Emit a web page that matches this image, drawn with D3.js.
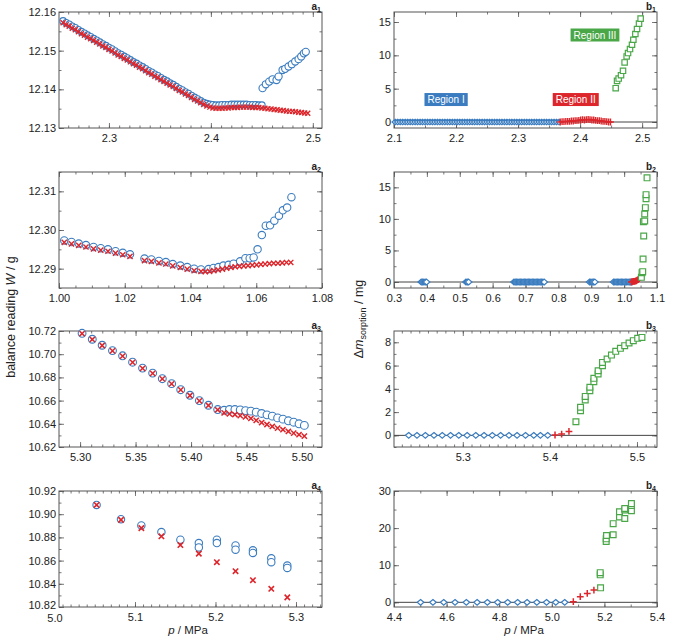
<!DOCTYPE html>
<html>
<head>
<meta charset="utf-8">
<script src="https://cdn.jsdelivr.net/npm/d3@7"></script>
<style>
body { margin: 0; background: #fff; }
svg text { font-family: "Liberation Sans", Arial, sans-serif; fill: #222; }
</style>
</head>
<body>
<svg id="chart" width="675" height="644"></svg>
<script>
// ---- panel a1 : balance reading, p = 2.25 .. 2.50 MPa
var a1P = [2.255, 2.258, 2.261, 2.264, 2.267, 2.270, 2.273, 2.276, 2.279, 2.282, 2.285, 2.288, 2.291, 2.294, 2.297,
  2.300, 2.303, 2.306, 2.309, 2.312, 2.315, 2.318, 2.321, 2.324, 2.327, 2.330, 2.333, 2.336, 2.339, 2.342, 2.345,
  2.348, 2.351, 2.354, 2.357, 2.360, 2.363, 2.366, 2.369, 2.372, 2.375, 2.378, 2.381, 2.384, 2.387, 2.390, 2.393,
  2.396, 2.399, 2.402, 2.405, 2.408, 2.411, 2.414, 2.417, 2.420, 2.423, 2.426, 2.429, 2.432, 2.435, 2.438, 2.441,
  2.444, 2.447, 2.450];
var a1Blue = [12.1577, 12.1572, 12.1568, 12.1563, 12.1559, 12.1554, 12.1549, 12.1545, 12.1540, 12.1536, 12.1531,
  12.1527, 12.1522, 12.1517, 12.1513, 12.1508, 12.1504, 12.1499, 12.1494, 12.1490, 12.1485, 12.1481, 12.1476,
  12.1471, 12.1467, 12.1462, 12.1458, 12.1453, 12.1448, 12.1444, 12.1439, 12.1435, 12.1430, 12.1425, 12.1421,
  12.1416, 12.1412, 12.1407, 12.1402, 12.1398, 12.1393, 12.1389, 12.1384, 12.1379, 12.1375, 12.1370, 12.1366,
  12.1363, 12.1361, 12.1360, 12.1359, 12.1359, 12.1360, 12.1360, 12.1360, 12.1361, 12.1361, 12.1361, 12.1361,
  12.1361, 12.1361, 12.1360, 12.1360, 12.1360, 12.1359, 12.1359];
var a1Red = [12.1572, 12.1567, 12.1563, 12.1558, 12.1554, 12.1549, 12.1544, 12.1540, 12.1535, 12.1531, 12.1526,
  12.1522, 12.1517, 12.1512, 12.1508, 12.1503, 12.1499, 12.1494, 12.1489, 12.1485, 12.1480, 12.1476, 12.1471,
  12.1466, 12.1462, 12.1457, 12.1453, 12.1448, 12.1443, 12.1439, 12.1434, 12.1430, 12.1425, 12.1420, 12.1416,
  12.1411, 12.1407, 12.1402, 12.1397, 12.1393, 12.1388, 12.1384, 12.1379, 12.1374, 12.1370, 12.1365, 12.1361,
  12.1357, 12.1354, 12.1352, 12.1351, 12.1351, 12.1351, 12.1352, 12.1352, 12.1353, 12.1353, 12.1353, 12.1354,
  12.1354, 12.1354, 12.1354, 12.1353, 12.1353, 12.1353, 12.1352];
var a1TailP = [2.453, 2.456, 2.459, 2.462, 2.465, 2.468, 2.471, 2.474, 2.477, 2.480, 2.483, 2.486, 2.489, 2.492, 2.495];
var a1Tail = [12.1351, 12.1350, 12.1349, 12.1348, 12.1347, 12.1346, 12.1345, 12.1344, 12.1343, 12.1343, 12.1342,
  12.1341, 12.1340, 12.1339, 12.1338];
var a1BranchP = [2.4507, 2.4539, 2.4572, 2.4605, 2.4644, 2.4664, 2.4703, 2.4729, 2.4762, 2.4794, 2.4827, 2.4860,
  2.4886, 2.4912, 2.4931];
var a1Branch = [12.1403, 12.1413, 12.1420, 12.1426, 12.1424, 12.1433, 12.1450, 12.1453, 12.1459, 12.1465, 12.1472,
  12.1478, 12.1485, 12.1493, 12.1497];

// ---- panel a2
var a2BlueP = [1.0016, 1.0038, 1.0060, 1.0082, 1.0105, 1.0127, 1.0149, 1.0172, 1.0194, 1.0216, 1.0260, 1.0281,
  1.0304, 1.0325, 1.0346, 1.0369, 1.0390, 1.0411, 1.0432, 1.0455, 1.0470, 1.0485, 1.0500, 1.0516, 1.0531, 1.0551,
  1.0567, 1.0580, 1.0592, 1.0604, 1.0617, 1.0629, 1.0642, 1.0655, 1.0669, 1.0681, 1.0694, 1.0707];
var a2Blue = [12.2973, 12.2969, 12.2965, 12.2961, 12.2956, 12.2953, 12.2950, 12.2945, 12.2941, 12.2937, 12.2926,
  12.2924, 12.2920, 12.2917, 12.2912, 12.2908, 12.2904, 12.2900, 12.2898, 12.2899, 12.2902, 12.2904, 12.2908,
  12.2910, 12.2913, 12.2919, 12.2927, 12.2927, 12.2929, 12.2950, 12.2987, 12.3011, 12.3012, 12.3024, 12.3037,
  12.3051, 12.3058, 12.3085];
var a2RedP = [1.0016, 1.0038, 1.0060, 1.0082, 1.0105, 1.0127, 1.0149, 1.0172, 1.0194, 1.0216, 1.0260, 1.0281,
  1.0304, 1.0325, 1.0346, 1.0369, 1.0390, 1.0411, 1.0432, 1.0445, 1.0458, 1.0471, 1.0484, 1.0497, 1.0510, 1.0523,
  1.0536, 1.0549, 1.0562, 1.0575, 1.0588, 1.0601, 1.0614, 1.0627, 1.0640, 1.0653, 1.0666, 1.0679, 1.0692, 1.0705];
var a2Red = [12.2968, 12.2964, 12.2960, 12.2956, 12.2951, 12.2948, 12.2945, 12.2940, 12.2936, 12.2932, 12.2921,
  12.2919, 12.2915, 12.2912, 12.2907, 12.2903, 12.2899, 12.2895, 12.2893, 12.2892, 12.2893, 12.2895, 12.2897,
  12.2899, 12.2901, 12.2903, 12.2905, 12.2906, 12.2907, 12.2908, 12.2909, 12.2910, 12.2911, 12.2912, 12.2913,
  12.2914, 12.2914, 12.2915, 12.2916, 12.2916];

// ---- panel a3
var a3P = [5.3018, 5.3110, 5.3199, 5.3292, 5.3383, 5.3473, 5.3563, 5.3654, 5.3741, 5.3825, 5.3907, 5.3990, 5.4075,
  5.4157, 5.4240, 5.4298, 5.4346, 5.4395, 5.4443, 5.4491, 5.4539, 5.4587, 5.4636, 5.4684, 5.4732, 5.4780, 5.4828,
  5.4877, 5.4925, 5.4973, 5.5021];
var a3Blue = [10.7180, 10.7129, 10.7077, 10.7031, 10.6986, 10.6931, 10.6880, 10.6837, 10.6789, 10.6746, 10.6694,
  10.6646, 10.6600, 10.6560, 10.6523, 10.6517, 10.6523, 10.6523, 10.6520, 10.6514, 10.6509, 10.6500, 10.6489,
  10.6477, 10.6466, 10.6451, 10.6440, 10.6426, 10.6414, 10.6400, 10.6386];
var a3Red = [10.7178, 10.7127, 10.7075, 10.7029, 10.6984, 10.6929, 10.6878, 10.6835, 10.6787, 10.6744, 10.6692,
  10.6644, 10.6598, 10.6558, 10.6521, 10.6494, 10.6486, 10.6480, 10.6471, 10.6460, 10.6446, 10.6429, 10.6411,
  10.6394, 10.6377, 10.6363, 10.6349, 10.6334, 10.6320, 10.6306, 10.6294];

// ---- panel a4
var a4BlueP = [5.0523, 5.0826, 5.1079, 5.1328, 5.1564, 5.1793, 5.1793, 5.2017, 5.2017, 5.2249, 5.2249, 5.2465,
  5.2465, 5.2693, 5.2693, 5.2892, 5.2892];
var a4Blue = [10.9080, 10.8957, 10.8903, 10.8846, 10.8780, 10.8751, 10.8714, 10.8780, 10.8751, 10.8731, 10.8694,
  10.8689, 10.8666, 10.8620, 10.8586, 10.8557, 10.8537];
var a4RedP = [5.0523, 5.0826, 5.1079, 5.1328, 5.1564, 5.1793, 5.2017, 5.2249, 5.2465, 5.2693, 5.2892];
var a4Red = [10.9080, 10.8951, 10.8880, 10.8809, 10.8734, 10.8660, 10.8586, 10.8509, 10.8431, 10.8357, 10.8283];

// ---- panel b1 : sorbed mass, regions I / II / III
var b1BlueP = [2.102, 2.106, 2.110, 2.114, 2.118, 2.122, 2.126, 2.130, 2.134, 2.138, 2.142, 2.146, 2.150, 2.154,
  2.158, 2.162, 2.166, 2.170, 2.174, 2.178, 2.182, 2.186, 2.190, 2.194, 2.198, 2.202, 2.206, 2.210, 2.214, 2.218,
  2.222, 2.226, 2.230, 2.234, 2.238, 2.242, 2.246, 2.250, 2.254, 2.258, 2.262, 2.266, 2.270, 2.274, 2.278, 2.282,
  2.286, 2.290, 2.294, 2.298, 2.302, 2.306, 2.310, 2.314, 2.318, 2.322, 2.326, 2.330, 2.334, 2.338, 2.342, 2.346,
  2.350, 2.354, 2.358, 2.362, 2.366];
var b1Blue = [0, 0, 0, 0, 0, 0, 0, 0, 0, 0, 0, 0, 0, 0, 0, 0, 0, 0, 0, 0, 0, 0, 0, 0, 0, 0, 0, 0, 0, 0, 0, 0, 0,
  0, 0, 0, 0, 0, 0, 0, 0, 0, 0, 0, 0, 0, 0, 0, 0, 0, 0, 0, 0, 0, 0, 0, 0, 0, 0, 0, 0, 0, 0, 0, 0, 0, 0];
var b1RedP = [2.368, 2.371, 2.374, 2.377, 2.380, 2.383, 2.386, 2.389, 2.392, 2.395, 2.398, 2.401, 2.404, 2.407,
  2.410, 2.413, 2.416, 2.419, 2.422, 2.425, 2.428, 2.431, 2.434, 2.437, 2.440, 2.443, 2.446, 2.449];
var b1Red = [0.00, 0.05, 0.05, 0.10, 0.10, 0.10, 0.15, 0.15, 0.20, 0.20, 0.25, 0.30, 0.35, 0.30, 0.35, 0.40, 0.35,
  0.30, 0.30, 0.25, 0.20, 0.20, 0.15, 0.10, 0.10, 0.05, 0.00, 0.00];
var b1SqP = [2.4574, 2.4596, 2.4622, 2.4660, 2.4692, 2.4718, 2.4751, 2.4773, 2.4805, 2.4837, 2.4859, 2.4891,
  2.4918, 2.4950, 2.4976];
var b1Sq = [5.07, 6.17, 6.52, 7.02, 7.68, 8.93, 9.83, 10.34, 10.94, 11.59, 12.34, 13.20, 13.95, 14.75, 15.50];
var regionNames = ["Region I", "Region II", "Region III"];
var regionP = [2.184, 2.393, 2.424];
var regionDm = [3.37, 3.37, 13.05];

// ---- panel b2
var b2BlueP = [0.383, 0.387, 0.391, 0.395, 0.399, 0.519, 0.523, 0.527, 0.665, 0.669, 0.673, 0.677, 0.681, 0.685,
  0.689, 0.693, 0.697, 0.701, 0.705, 0.709, 0.713, 0.717, 0.721, 0.725, 0.729, 0.733, 0.737, 0.741, 0.745, 0.749,
  0.753, 0.757, 0.895, 0.899, 0.903, 0.907, 0.911, 0.968, 0.972, 0.976, 0.980, 0.984, 0.988, 0.992, 0.996, 1.000,
  1.004, 1.008, 1.012, 1.016, 1.020, 1.024];
var b2Blue = [0, 0, 0, 0, 0, 0, 0, 0, 0, 0, 0, 0, 0, 0, 0, 0, 0, 0, 0, 0, 0, 0, 0, 0, 0, 0, 0, 0, 0, 0, 0, 0, 0,
  0, 0, 0, 0, 0, 0, 0, 0, 0, 0, 0, 0, 0, 0, 0, 0, 0, 0, 0];
var b2RedP = [1.022, 1.025, 1.028, 1.031, 1.034, 1.037, 1.040, 1.043, 1.046];
var b2Red = [0.00, 0.05, 0.10, 0.10, 0.15, 0.20, 0.30, 0.40, 0.55];
var b2SqP = [1.0525, 1.0545, 1.0566, 1.0576, 1.0596, 1.0586, 1.0626, 1.0626, 1.0646, 1.0667, 1.0667, 1.0697];
var b2Sq = [0.74, 1.48, 1.64, 3.64, 7.29, 9.56, 9.67, 10.78, 11.78, 13.20, 13.84, 16.50];

// ---- panel b3
var b3BlueP = [5.2379, 5.2474, 5.2570, 5.2669, 5.2764, 5.2859, 5.2954, 5.3050, 5.3149, 5.3244, 5.3339, 5.3434,
  5.3530, 5.3623, 5.3720, 5.3815, 5.3891, 5.3975];
var b3Blue = [0, 0, 0, 0, 0, 0, 0, 0, 0, 0, 0, 0, 0, 0, 0, 0, 0, 0];
var b3RedP = [5.4059, 5.4135, 5.4219];
var b3Red = [0.03, 0.11, 0.34];
var b3SqP = [5.4299, 5.4352, 5.4352, 5.4406, 5.4406, 5.4459, 5.4459, 5.4505, 5.4505, 5.4554, 5.4554, 5.4604,
  5.4604, 5.4657, 5.4707, 5.4756, 5.4810, 5.4859, 5.4909, 5.4958, 5.5008, 5.5057];
var b3Sq = [1.17, 2.12, 2.41, 3.04, 3.35, 3.84, 4.13, 4.61, 4.90, 5.27, 5.56, 5.99, 6.27, 6.56, 6.90, 7.22, 7.48,
  7.71, 7.94, 8.14, 8.34, 8.42];

// ---- panel b4
var b4BlueP = [4.501, 4.548, 4.589, 4.632, 4.675, 4.716, 4.755, 4.794, 4.832, 4.870, 4.906, 4.943, 4.980, 5.015, 5.049];
var b4Blue = [0, 0, 0, 0, 0, 0, 0, 0, 0, 0, 0, 0, 0, 0, 0];
var b4RedP = [5.0818, 5.1083, 5.1348, 5.1601];
var b4Red = [0.18, 1.51, 2.40, 3.30];
var b4SqP = [5.1854, 5.1841, 5.1841, 5.2068, 5.2068, 5.2081, 5.2333, 5.2333, 5.2573, 5.2573, 5.2775, 5.2775,
  5.2775, 5.3028, 5.3028, 5.3028];
var b4Sq = [3.9, 7.4, 8.0, 16.4, 17.1, 18.0, 18.2, 21.2, 23.0, 24.4, 22.6, 24.9, 25.3, 24.7, 26.1, 26.6];

// ---- tick labels
var a1XTicks = [2.3, 2.4, 2.5], a1YTicks = [12.13, 12.14, 12.15, 12.16];
var a2XTicks = [1.00, 1.02, 1.04, 1.06, 1.08], a2YTicks = [12.29, 12.30, 12.31];
var a3XTicks = [5.30, 5.35, 5.40, 5.45, 5.50], a3YTicks = [10.62, 10.64, 10.66, 10.68, 10.70, 10.72];
var a4XTicks = [5.0, 5.1, 5.2, 5.3], a4YTicks = [10.82, 10.84, 10.86, 10.88, 10.90, 10.92];
var b1XTicks = [2.1, 2.2, 2.3, 2.4, 2.5], b1YTicks = [0, 5, 10, 15];
var b2XTicks = [0.3, 0.4, 0.5, 0.6, 0.7, 0.8, 0.9, 1.0, 1.1], b2YTicks = [0, 5, 10, 15];
var b3XTicks = [5.3, 5.4, 5.5], b3YTicks = [0, 2, 4, 6, 8];
var b4XTicks = [4.4, 4.6, 4.8, 5.0, 5.2, 5.4], b4YTicks = [0, 10, 20, 30];

var blue = "#3a7cbf", red = "#dc262c", green = "#4aa748", axisCol = "#555";
var svg = d3.select("#chart");
svg.append("rect").attr("width", 675).attr("height", 644).attr("fill", "#fff");

var pw = 263, ph = 116;
var rowTop = [12, 172, 331, 491];

function steps(d, s) {
  var out = [];
  for (var k = Math.ceil(d[0] / s - 1e-6); k * s <= d[1] + 1e-9; k++) out.push(+(k * s).toFixed(6));
  return out;
}

function panel(o) {
  var g = svg.append("g").attr("transform", "translate(" + o.left + "," + o.top + ")");
  var x = d3.scaleLinear().domain(o.xd).range([0, pw]);
  var y = d3.scaleLinear().domain(o.yd).range([ph, 0]);
  var inX = function(v) { return v >= o.xd[0] - 1e-9 && v <= o.xd[1] + 1e-9; };
  var inY = function(v) { return v >= o.yd[0] - 1e-9 && v <= o.yd[1] + 1e-9; };

  function tickSet(axis, scale, vals, size, tr) {
    g.append("g").attr("transform", tr)
      .call(axis(scale).tickValues(vals).tickSizeInner(-size).tickSizeOuter(0).tickFormat(""))
      .call(function(s) { s.select(".domain").remove(); })
      .selectAll("line").attr("stroke", axisCol).attr("stroke-width", 0.8);
  }
  var xMaj = o.xt.filter(inX), yMaj = o.yt.filter(inY);
  var xMin = steps(o.xd, o.xm), yMin = steps(o.yd, o.ym);
  tickSet(d3.axisBottom, x, xMin, 2.5, "translate(0," + ph + ")");
  tickSet(d3.axisTop, x, xMin, 2.5, "translate(0,0)");
  tickSet(d3.axisLeft, y, yMin, 2.5, "translate(0,0)");
  tickSet(d3.axisRight, y, yMin, 2.5, "translate(" + pw + ",0)");
  tickSet(d3.axisBottom, x, xMaj, 5, "translate(0," + ph + ")");
  tickSet(d3.axisTop, x, xMaj, 5, "translate(0,0)");
  tickSet(d3.axisLeft, y, yMaj, 5, "translate(0,0)");
  tickSet(d3.axisRight, y, yMaj, 5, "translate(" + pw + ",0)");

  var xLab = g.append("g").attr("transform", "translate(0," + ph + ")")
    .call(d3.axisBottom(x).tickValues(o.xt).tickSize(0).tickPadding(6).tickFormat(d3.format(o.xf)))
    .call(function(s) { s.select(".domain").remove(); });
  xLab.selectAll("text").attr("font-size", 11).attr("fill", "#222")
    .attr("font-family", '"Liberation Sans", Arial, sans-serif');
  var yLab = g.append("g")
    .call(d3.axisLeft(y).tickValues(o.yt).tickSize(0).tickPadding(3).tickFormat(d3.format(o.yf)))
    .call(function(s) { s.select(".domain").remove(); });
  yLab.selectAll("text").attr("font-size", 11).attr("fill", "#222")
    .attr("font-family", '"Liberation Sans", Arial, sans-serif');

  if (o.zero) {
    g.append("line").attr("x1", 0).attr("x2", pw).attr("y1", y(0)).attr("y2", y(0))
      .attr("stroke", "#444").attr("stroke-width", 1);
  }

  g.append("rect").attr("width", pw).attr("height", ph)
    .attr("fill", "none").attr("stroke", axisCol).attr("stroke-width", 1);

  var lab = g.append("text").attr("x", pw - 1).attr("y", -2).attr("text-anchor", "end")
    .attr("font-weight", "bold").attr("font-size", 10);
  lab.append("tspan").text(o.name[0]);
  lab.append("tspan").attr("dy", 1.5).attr("font-size", 7).text(o.name[1]);

  var layer = g.append("g");
  return { g: layer, x: x, y: y, xLab: xLab, yLab: yLab };
}

function circles(p, xs, ys, r) {
  p.g.append("g").selectAll("circle").data(d3.zip(xs, ys)).join("circle")
    .attr("cx", function(d) { return p.x(d[0]); })
    .attr("cy", function(d) { return p.y(d[1]); })
    .attr("r", r).attr("fill", "#fff").attr("stroke", blue).attr("stroke-width", 1.1);
}

function marks(p, xs, ys, shape, color, fill, sw) {
  p.g.append("g").selectAll("path").data(d3.zip(xs, ys)).join("path")
    .attr("transform", function(d) { return "translate(" + p.x(d[0]) + "," + p.y(d[1]) + ")"; })
    .attr("d", shape).attr("fill", fill).attr("stroke", color).attr("stroke-width", sw);
}

function cross(s) { return "M" + (-s) + "," + (-s) + "L" + s + "," + s + "M" + (-s) + "," + s + "L" + s + "," + (-s); }
function plus(s) { return "M" + (-s) + ",0H" + s + "M0," + (-s) + "V" + s; }
function square(s) { return "M" + (-s) + "," + (-s) + "H" + s + "V" + s + "H" + (-s) + "Z"; }
function diamond(w, h) { return "M0," + (-h) + "L" + w + ",0L0," + h + "L" + (-w) + ",0Z"; }

// ---- left column
var pa1 = panel({ left: 59, top: rowTop[0], xd: [2.251, 2.509], yd: [12.13, 12.16], xt: a1XTicks, yt: a1YTicks,
  xm: 0.01, ym: 0.005, xf: ".1f", yf: ".2f", name: ["a", "1"] });
circles(pa1, a1P, a1Blue, 3.3);
circles(pa1, a1BranchP, a1Branch, 3.6);
marks(pa1, a1P.concat(a1TailP), a1Red.concat(a1Tail), cross(2.5), red, "none", 1.4);

var pa2 = panel({ left: 59, top: rowTop[1], xd: [1.0, 1.08], yd: [12.285, 12.315], xt: a2XTicks, yt: a2YTicks,
  xm: 0.005, ym: 0.005, xf: ".2f", yf: ".2f", name: ["a", "2"] });
circles(pa2, a2BlueP, a2Blue, 3.7);
marks(pa2, a2RedP, a2Red, cross(2.6), red, "none", 1.4);

var pa3 = panel({ left: 59, top: rowTop[2], xd: [5.281, 5.518], yd: [10.62, 10.72], xt: a3XTicks, yt: a3YTicks,
  xm: 0.01, ym: 0.01, xf: ".2f", yf: ".2f", name: ["a", "3"] });
circles(pa3, a3P, a3Blue, 3.9);
marks(pa3, a3P, a3Red, cross(2.6), red, "none", 1.5);

var pa4 = panel({ left: 59, top: rowTop[3], xd: [5.0056, 5.3323], yd: [10.82, 10.92], xt: a4XTicks, yt: a4YTicks,
  xm: 0.01, ym: 0.01, xf: ".1f", yf: ".2f", name: ["a", "4"] });
circles(pa4, a4BlueP, a4Blue, 3.7);
marks(pa4, a4RedP, a4Red, cross(2.7), red, "none", 1.6);
// the corner labels 10.82 and 5.0 sit very close: nudge them apart a little
pa4.yLab.selectAll("text").filter(function(d) { return d === 10.82; }).attr("dy", "0.15em");
pa4.xLab.selectAll("text").filter(function(d) { return d === 5.0; }).attr("y", 7);

// ---- right column
var pb1 = panel({ left: 394, top: rowTop[0], xd: [2.1, 2.524], yd: [-0.9, 16.5], xt: b1XTicks, yt: b1YTicks,
  xm: 0.05, ym: 2.5, xf: ".1f", yf: "d", name: ["b", "1"], zero: true });
marks(pb1, b1BlueP, b1Blue, diamond(3.2, 2.8), blue, "#fff", 1.2);
marks(pb1, b1RedP, b1Red, plus(3.4), red, "none", 1.4);
marks(pb1, b1SqP, b1Sq, square(2.7), green, "#fff", 1.2);

var regionCol = [blue, red, green];
regionNames.forEach(function(name, i) {
  var gg = pb1.g.append("g")
    .attr("transform", "translate(" + pb1.x(regionP[i]) + "," + pb1.y(regionDm[i]) + ")");
  var r = gg.append("rect").attr("fill", regionCol[i]);
  var t = gg.append("text").attr("text-anchor", "middle").attr("dy", "0.35em")
    .attr("font-size", 10).style("fill", "#fff").text(name);
  var w = t.node().getComputedTextLength() + 6;
  r.attr("x", -w / 2).attr("y", -6.5).attr("width", w).attr("height", 13);
});

var pb2 = panel({ left: 394, top: rowTop[1], xd: [0.3, 1.1], yd: [-0.95, 17.43], xt: b2XTicks, yt: b2YTicks,
  xm: 0.05, ym: 2.5, xf: ".1f", yf: "d", name: ["b", "2"], zero: true });
marks(pb2, b2BlueP, b2Blue, diamond(3.3, 2.9), blue, "#fff", 1.2);
marks(pb2, b2RedP, b2Red, plus(3.4), red, "none", 1.5);
marks(pb2, b2SqP, b2Sq, square(2.9), green, "#fff", 1.2);

var pb3 = panel({ left: 394, top: rowTop[2], xd: [5.221, 5.523], yd: [-1, 8.97], xt: b3XTicks, yt: b3YTicks,
  xm: 0.01, ym: 1, xf: ".1f", yf: "d", name: ["b", "3"], zero: true });
marks(pb3, b3BlueP, b3Blue, diamond(3.3, 2.9), blue, "#fff", 1.2);
marks(pb3, b3RedP, b3Red, plus(3.4), red, "none", 1.5);
marks(pb3, b3SqP, b3Sq, square(2.9), green, "#fff", 1.2);

var pb4 = panel({ left: 394, top: rowTop[3], xd: [4.4, 5.4], yd: [-1.26, 30], xt: b4XTicks, yt: b4YTicks,
  xm: 0.1, ym: 5, xf: ".1f", yf: "d", name: ["b", "4"], zero: true });
marks(pb4, b4BlueP, b4Blue, diamond(3.3, 2.9), blue, "#fff", 1.2);
marks(pb4, b4RedP, b4Red, plus(3.4), red, "none", 1.5);
marks(pb4, b4SqP, b4Sq, square(2.9), green, "#fff", 1.2);

// ---- axis titles
var yl = svg.append("text").attr("transform", "translate(15,317) rotate(-90)")
  .attr("text-anchor", "middle").attr("font-size", 12.5);
yl.append("tspan").text("balance reading ");
yl.append("tspan").attr("font-style", "italic").text("W");
yl.append("tspan").text(" / g");

var yr = svg.append("text").attr("transform", "translate(363,319) rotate(-90)")
  .attr("text-anchor", "middle").attr("font-size", 12.5);
yr.append("tspan").text("Δ");
yr.append("tspan").attr("font-style", "italic").text("m");
yr.append("tspan").attr("dy", 3).attr("font-size", 9).text("sorption");
yr.append("tspan").attr("dy", -3).text(" / mg");

[188, 524].forEach(function(cx) {
  var t = svg.append("text").attr("x", cx).attr("y", 634).attr("text-anchor", "middle").attr("font-size", 11.5);
  t.append("tspan").attr("font-style", "italic").text("p");
  t.append("tspan").text(" / MPa");
});
</script>
</body>
</html>
